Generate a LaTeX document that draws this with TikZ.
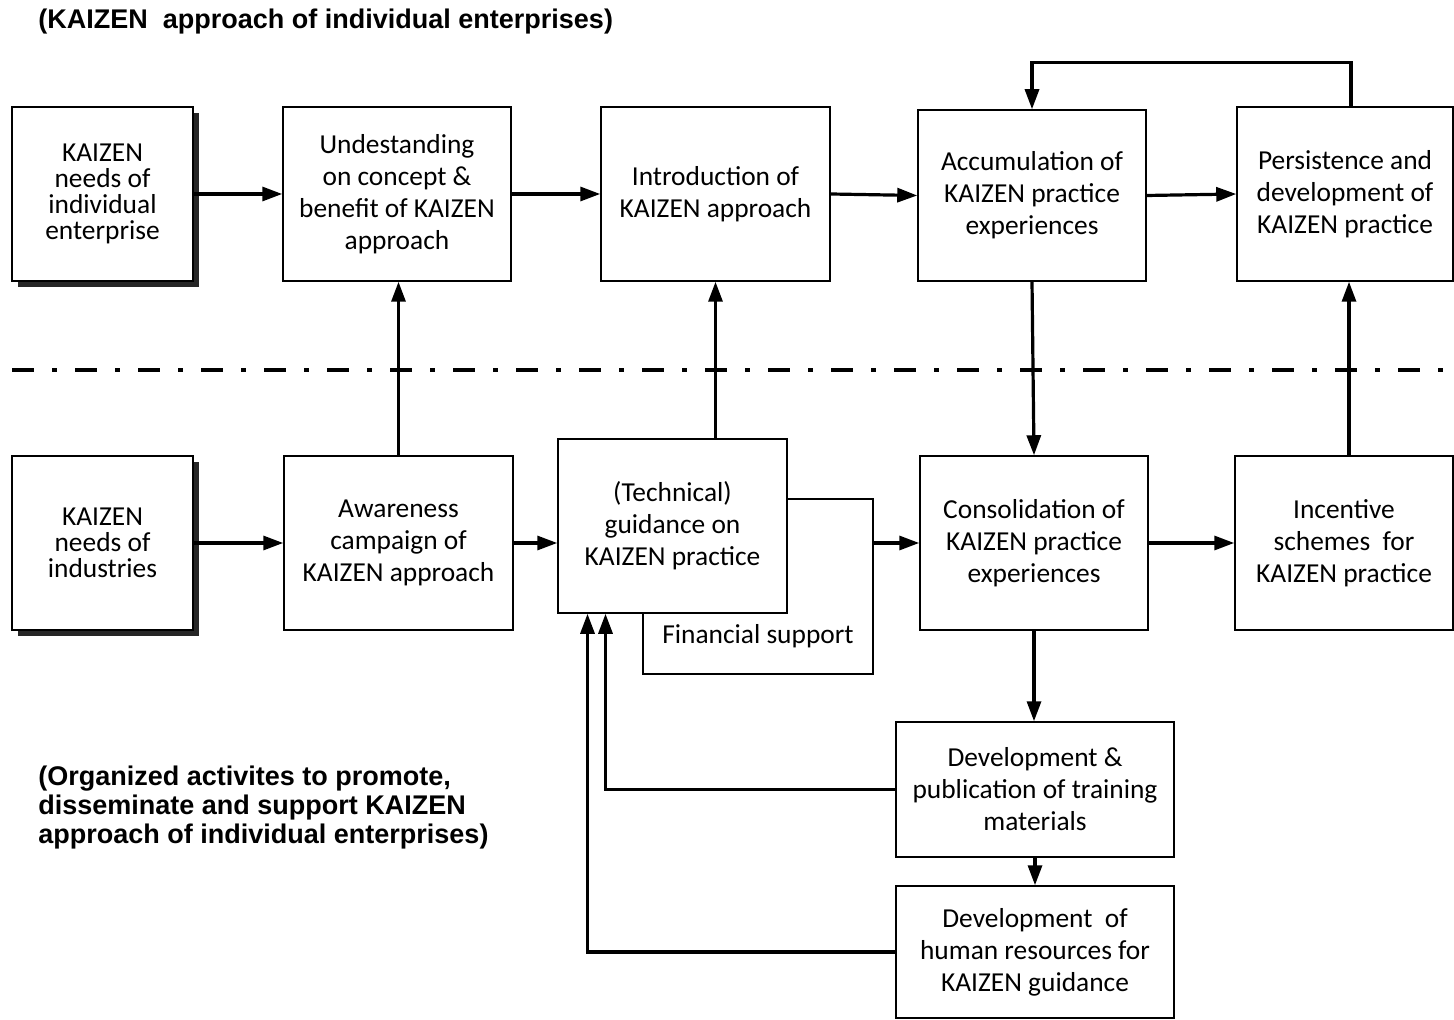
\documentclass[tikz,border=0pt]{standalone}
\usepackage{fontspec}
\setmainfont{Carlito}
\newfontfamily\headfont{Liberation Sans}
\usetikzlibrary{arrows.meta,positioning,calc,shadows}

\begin{document}
\begin{tikzpicture}[
    x=0.5pt, y=0.5pt,
    box/.style={rectangle, draw, line width=0.75pt, fill=white, align=center, inner sep=0pt, font=\fontsize{13.7}{16}\selectfont},
    shadowbox/.style={box, font=\fontsize{13.7}{13}\selectfont, drop shadow={shadow xshift=3pt, shadow yshift=-3pt, fill=black!85, opacity=1}},
    arrow/.style={-{Triangle[length=10pt,width=7pt]}, line width=1.6pt},
    heading/.style={font=\headfont\bfseries\fontsize{13.5}{14.5}\selectfont, align=left, inner sep=0pt}
]
    \useasboundingbox (0,0) rectangle (1454,-1020);

    % Titel oben
    \node[heading, anchor=west] (toptitle) at (38,-22) {(KAIZEN\ \ approach of individual enterprises)};

    % Obere Reihe - einzelne Unternehmen
    \node[shadowbox, minimum width=90.5pt, minimum height=87pt] (needsent) at (102.5,-194) {KAIZEN\\needs of\\individual\\enterprise};
    \node[box, minimum width=114pt, minimum height=87pt] (understand) at (397,-194) {Undestanding\\on concept \&\\benefit of KAIZEN\\approach};
    \node[box, minimum width=114.5pt, minimum height=87pt] (intro) at (715.5,-194) {Introduction of\\KAIZEN approach};
    \node[box, minimum width=114pt, minimum height=85.5pt] (accum) at (1032,-195.5) {Accumulation of\\KAIZEN practice\\experiences};
    \node[box, minimum width=108pt, minimum height=87pt] (persist) at (1345,-194) {Persistence and\\development of\\KAIZEN practice};

    % Trennlinie
    \coordinate (sepL) at (12,-370);
    \coordinate (sepR) at (1454,-370);
    \draw[line width=2pt, dash pattern=on 11pt off 9pt on 2.5pt off 9pt] (sepL) -- (sepR);

    % Untere Reihe - organisierte Aktivitaeten
    \node[box, minimum width=115pt, minimum height=87.5pt] (finance) at (758,-586.5) {};
    \node[font=\fontsize{13.7}{16}\selectfont] (fintext) at (758,-636) {Financial support};
    \node[shadowbox, minimum width=90.5pt, minimum height=87pt] (needsind) at (102.5,-543) {KAIZEN\\needs of\\industries};
    \node[box, minimum width=114.5pt, minimum height=87pt] (aware) at (398.5,-543) {Awareness\\campaign of\\KAIZEN approach};
    \node[box, minimum width=114.5pt, minimum height=87pt] (guide) at (672.5,-526) {(Technical)\\guidance on\\KAIZEN practice};
    \node[box, minimum width=114pt, minimum height=87pt] (consol) at (1034,-543) {Consolidation of\\KAIZEN practice\\experiences};
    \node[box, minimum width=109pt, minimum height=87pt] (incent) at (1344,-543) {Incentive\\schemes \ for\\KAIZEN practice};
    \node[box, minimum width=139pt, minimum height=67.5pt] (publish) at (1035,-789.5) {Development \&\\publication of training\\materials};
    \node[box, minimum width=139pt, minimum height=66pt] (human) at (1035,-952) {Development \ of\\human resources for\\KAIZEN guidance};

    % Titel unten
    \node[heading, anchor=west] (bottitle) at (38,-808) {(Organized activites to promote,\\disseminate and support KAIZEN\\approach of individual enterprises)};

    % Pfeile oben
    \draw[arrow] (needsent) -- (understand);
    \draw[arrow] (understand) -- (intro);
    \draw[arrow] (intro.east) -- (accum.west);
    \draw[arrow] (accum.east) -- (persist.west);
    \draw[arrow] ([xshift=3pt]persist.north) -- ++(0,44) -| (accum.north);

    % Pfeile zwischen den Ebenen
    \draw[arrow] (aware.north) -- (aware.north |- understand.south);
    \draw[arrow] (guide.north -| intro.south) -- (intro.south);
    \draw[arrow] (accum.south) -- (consol.north);
    \draw[arrow] ([xshift=2.5pt]incent.north) -- ([xshift=2.5pt]incent.north |- persist.south);

    % Pfeile unten
    \draw[arrow] (needsind) -- (aware);
    \draw[arrow] (aware.east) -- (aware.east -| guide.west);
    \draw[arrow] (finance.east |- consol.west) -- (consol.west);
    \draw[arrow] (consol) -- (incent);
    \draw[arrow] (consol.south) -- (consol.south |- publish.north);
    \draw[arrow] (publish) -- (human);
    \draw[arrow] (publish.west) -| ($(guide.south)+(-67,0)$);
    \draw[arrow] (human.west) -| ($(guide.south)+(-85,0)$);
\end{tikzpicture}
\end{document}
